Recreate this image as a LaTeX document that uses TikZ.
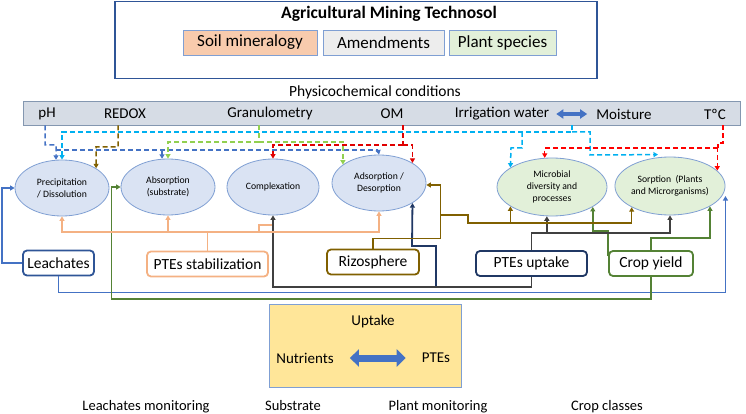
\documentclass[tikz,border=0pt]{standalone}
\usepackage{fontspec}
\setmainfont{Carlito}
\usetikzlibrary{arrows.meta,shapes.geometric}
\definecolor{dblue}{HTML}{2F5597}
\definecolor{mblue}{HTML}{4472C4}
\definecolor{lblue}{HTML}{00B0F0}
\definecolor{ebord}{HTML}{7F9FD3}
\definecolor{efillb}{HTML}{DAE3F3}
\definecolor{efillg}{HTML}{E2F0D9}
\definecolor{peach}{HTML}{F4B183}
\definecolor{peachfill}{HTML}{F8CBAD}
\definecolor{brownc}{HTML}{806000}
\definecolor{navy}{HTML}{203864}
\definecolor{dgrey}{HTML}{404040}
\definecolor{cgreen}{HTML}{548235}
\definecolor{lgreen}{HTML}{92D050}
\definecolor{dred}{HTML}{E00000}
\definecolor{bred}{HTML}{FF0000}
\definecolor{barfill}{HTML}{D6DCE5}
\definecolor{barbord}{HTML}{8497B0}
\definecolor{yfill}{HTML}{FFE699}
\definecolor{agrey}{HTML}{EDEDED}
\tikzset{
  txt/.style={inner sep=0pt, font=\fontsize{15}{18}\selectfont},
  btxt/.style={inner sep=0pt, font=\fontsize{14.5}{17}\selectfont},
  ttl/.style={inner sep=0pt, font=\fontsize{17.5}{21}\selectfont\bfseries},
  subbox/.style={draw=ebord, line width=0.8pt, minimum height=25pt, inner sep=0pt, font=\fontsize{17}{20}\selectfont},
  ell/.style={ellipse, draw=ebord, line width=0.8pt, inner sep=0pt, align=center, font=\fontsize{9.7}{12}\selectfont},
  rbox/.style={rounded corners=4pt, line width=1.8pt, fill=white, inner sep=0pt, minimum height=25pt, font=\fontsize{15.5}{18}\selectfont},
  dsh/.style={line width=1.5pt, dash pattern=on 5pt off 3pt},
  sol/.style={line width=1.5pt},
  ar/.style={-{Triangle[length=4.5pt,width=5pt]}},
  smallbig/.style={line width=3.5pt, {Triangle[length=7pt,width=9pt]}-{Triangle[length=7pt,width=9pt]}},
  largebig/.style={line width=7pt, {Triangle[length=9pt,width=17pt]}-{Triangle[length=9pt,width=17pt]}},
}
\begin{document}
\begin{tikzpicture}[x=1pt,y=-1pt]
\useasboundingbox (0,0) rectangle (746,414);
% top frame
\node[draw=dblue, line width=1.5pt, minimum width=482pt, minimum height=77pt, inner sep=0pt] (top) at (356,40) {};
\node[ttl] (title) at (389,14) {Agricultural Mining Technosol};
\node[subbox, fill=peachfill, minimum width=134pt] (soil) at (250,42.5) {Soil mineralogy};
\node[subbox, fill=agrey, minimum width=121pt] (amend) at (383.5,42.5) {Amendments};
\node[subbox, fill=efillg, minimum width=107pt] (plant) at (502.5,42.5) {Plant species};
% bar
\node[txt, font=\fontsize{15.5}{18}\selectfont] (phys) at (375,92) {Physicochemical conditions};
\node[draw=barbord, fill=barfill, line width=0.8pt, minimum width=717pt, minimum height=24pt, inner sep=0pt] (bar) at (381.5,113) {};
\node[txt] (ph) at (47,114) {pH};
\node[txt] (redox) at (125,114) {REDOX};
\node[txt] (gran) at (270,114) {Granulometry};
\node[txt] (om) at (392,114) {OM};
\node[txt] (irr) at (502,114) {Irrigation water};
\node[txt] (moist) at (624,114) {Moisture};
\node[txt] (temp) at (715,114) {TºC};
\draw[mblue, smallbig] ([xshift=7pt]irr.east) -- ([xshift=-9pt]moist.west);
% ellipses
\node[ell, fill=efillb, minimum width=94pt, minimum height=56pt] (pd) at (62,188) {Precipitation\\/ Dissolution};
\node[ell, fill=efillb, minimum width=94pt, minimum height=56pt] (ab) at (168,187) {Absorption\\(substrate)};
\node[ell, fill=efillb, minimum width=92pt, minimum height=56pt] (cx) at (273,187) {Complexation};
\node[ell, fill=efillb, minimum width=94pt, minimum height=56pt] (ad) at (379,183) {Adsorption /\\Desorption};
\node[ell, fill=efillg, minimum width=110pt, minimum height=58pt] (mi) at (552,187) {Microbial\\diversity and\\processes};
\node[ell, fill=efillg, minimum width=104pt, minimum height=58pt] (so) at (670,186) {Sorption~~(Plants\\and Microrganisms)};
% boxes
\node[rbox, draw=dblue, minimum width=71pt] (lea) at (58.5,263) {Leachates};
\node[rbox, draw=peach, minimum width=121pt] (stab) at (207.5,264) {PTEs stabilization};
\node[rbox, draw=brownc, minimum width=92pt] (riz) at (373,262) {Rizosphere};
\node[rbox, draw=navy, minimum width=111pt] (upt) at (531.5,263.5) {PTEs uptake};
\node[rbox, draw=cgreen, minimum width=84pt] (crop) at (651,263.5) {Crop yield};
% yellow box
\node[draw=ebord, fill=yfill, line width=0.8pt, minimum width=192pt, minimum height=83pt, inner sep=0pt] (ybox) at (365,345.5) {};
\node[txt] (upk) at (373,321) {Uptake};
\node[txt] (nut) at (305,358) {Nutrients};
\node[txt] (ptes) at (436,358) {PTEs};
\draw[mblue, largebig] ([xshift=16pt]nut.east) -- ([xshift=-16pt]ptes.west);
% bottom labels
\node[btxt, anchor=base] (lm) at (146,410) {Leachates monitoring};
\node[btxt, anchor=base] (sub) at (293,410) {Substrate};
\node[btxt, anchor=base] (pm) at (438,410) {Plant monitoring};
\node[btxt, anchor=base] (cc) at (607,410) {Crop classes};

% dashed connectors from the bar
% pH
\draw[dsh, mblue, ar] (bar.south -| 45,0) |- (56,145) -- (pd.102);
\draw[dsh, mblue] (56,150) -- (378,150);
\draw[dsh, mblue, ar] (ab.102 |- 0,150) -- (ab.102);
\draw[dsh, mblue, ar] (378,150) -- (ad.north);
% irrigation / moisture
\draw[dsh, lblue, ar] (bar.south -| 572,0) -- (572,132) -| (pd.north);
\draw[dsh, lblue, ar] (572,132) -| (590,155) -- ([xshift=-12pt,yshift=2pt]so.north);
\draw[dsh, lblue, ar] (522,132) |- (511,148) -- (mi.155);
% REDOX
\draw[dsh, brownc, ar] (bar.south -| 118,0) |- (96,147) -- (pd.30);
% Granulometry
\draw[dsh, lgreen] (bar.south -| 259,0) -- (259,142);
\draw[dsh, lgreen, ar] (259,142) -| (ab.north);
\draw[dsh, lgreen, ar] (259,142) -| (ad.153);
% OM
\draw[dsh, dred] (bar.south -| 403,0) -- (403,145);
\draw[dsh, dred, ar] (403,145) -| (cx.north);
\draw[dsh, dred, ar] (403,145) -| (ad.31);
% TºC
\draw[dsh, bred] (bar.south -| 723,0) |- (718,143) -- (718,148);
\draw[dsh, bred, ar] (718,148) -| (mi.104);
\draw[dsh, bred, ar] (718,148) -| (so.18);

% solid connectors
% Leachates
\draw[sol, mblue, line width=1.8pt, ar] (lea.west) -- ++(-20,0) |- (pd.west);
\draw[sol, mblue, line width=1.8pt, ar] (lea.south) -- ++(0,16) -| ([yshift=-10pt]so.east);
% Crop yield
\draw[sol, cgreen, ar] (crop.south) -- ++(0,22) -| ([xshift=-9pt]ab.west) -- (ab.west);
\draw[sol, cgreen, ar] ([yshift=-6pt]crop.north west) -- ++(0,-25) -| (mi.-26);
\draw[sol, cgreen, ar] (crop.north) -- ++(0,-12) -| (so.-27);
% PTEs uptake
\draw[sol, dgrey, ar] (upt.south) -- ++(0,10) -| (cx.south);
\draw[sol, dgrey, ar] (upt.north) -- ++(0,-17) -| (so.south);
\draw[sol, dgrey, ar] (upt.north) ++(0,-17) -| (mi.-100);
\draw[sol, navy, line width=1.8pt, ar] (436,286) |- (412,246) -- (ad.-31);
% Rizosphere
\draw[sol, brownc, ar] (riz.north) -- ++(0,-10) -| ([xshift=14pt,yshift=-2pt]ad.east) -- ([yshift=-2pt]ad.east);
\draw[sol, brownc, ar] (440,215) -- (468,215) -- (468,223) -| (so.-151);
\draw[sol, brownc, ar] (468,223) -| (mi.-155);
% PTEs stabilization
\draw[sol, peach] (stab.north) -- ++(0,-20);
\draw[sol, peach, ar] (207,232) -| (pd.south);
\draw[sol, peach, ar] (207,232) -| (ab.south);
\draw[sol, peach, ar] (207,232) -| (ad.south);
\draw[sol, peach] (259,232) |- (272,225);
\end{tikzpicture}
\end{document}
